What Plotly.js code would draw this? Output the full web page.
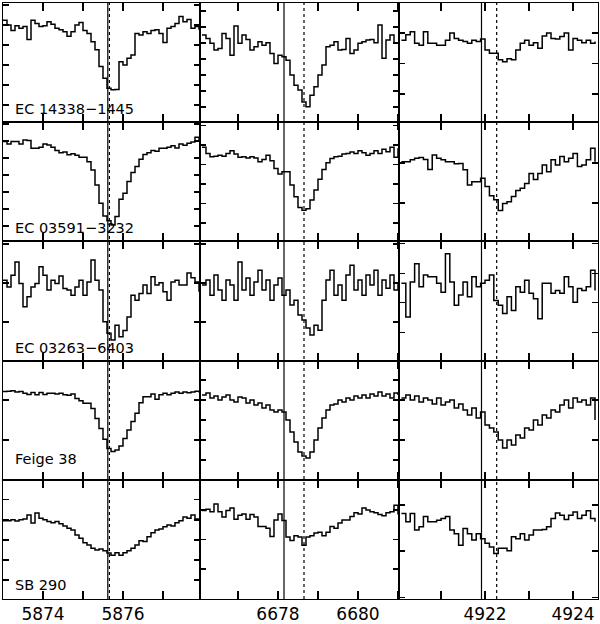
<!DOCTYPE html>
<html><head><meta charset="utf-8">
<script src="https://cdn.plot.ly/plotly-3.0.1.min.js"></script>
<style>body{margin:0;background:#fff}#plot{width:600px;height:624px}</style>
</head><body><div id="plot"></div>
<script>
const stars = ["EC 14338\u22121445", "EC 03591\u22123232", "EC 03263\u22126403", "Feige 38", "SB 290"];

const wl5876 = [5873.0,5873.1,5873.2,5873.3,5873.4,5873.5,5873.6,5873.7,5873.8,5873.9,5874.0,5874.1,5874.2,5874.3,5874.4,5874.5,5874.6,5874.7,5874.8,5874.9,5875.0,5875.1,5875.2,5875.3,5875.4,5875.5,5875.6,5875.7,5875.8,5875.9,5876.0,5876.1,5876.2,5876.3,5876.4,5876.5,5876.6,5876.7,5876.8,5876.9,5877.0,5877.1,5877.2,5877.3,5877.4,5877.5,5877.6,5877.7,5877.8,5877.9];
const wl6678 = [6676.1,6676.2,6676.3,6676.4,6676.5,6676.6,6676.7,6676.8,6676.9,6677.0,6677.1,6677.2,6677.3,6677.4,6677.5,6677.6,6677.7,6677.8,6677.9,6678.0,6678.1,6678.2,6678.3,6678.4,6678.5,6678.6,6678.7,6678.8,6678.9,6679.0,6679.1,6679.2,6679.3,6679.4,6679.5,6679.6,6679.7,6679.8,6679.9,6680.0,6680.1,6680.2,6680.3,6680.4,6680.5,6680.6,6680.7,6680.8,6680.9,6681.0];
const wl4922 = [4920.1,4920.2,4920.3,4920.4,4920.5,4920.6,4920.7,4920.8,4920.9,4921.0,4921.1,4921.2,4921.3,4921.4,4921.5,4921.6,4921.7,4921.8,4921.9,4922.0,4922.1,4922.2,4922.3,4922.4,4922.5,4922.6,4922.7,4922.8,4922.9,4923.0,4923.1,4923.2,4923.3,4923.4,4923.5,4923.6,4923.7,4923.8,4923.9,4924.0,4924.1,4924.2,4924.3,4924.4,4924.5];

// normalised flux
const ec14338_5876 = [1.012,1.000,0.986,0.998,0.992,0.996,0.964,1.012,1.004,0.996,0.998,1.008,1.002,0.992,0.988,0.983,0.972,0.983,1.000,1.006,0.986,0.979,0.958,0.938,0.896,0.867,0.842,0.838,0.839,0.908,0.900,0.917,0.925,0.979,0.975,0.983,0.979,0.986,0.988,0.979,0.956,0.992,0.996,1.004,1.021,1.008,1.014,0.992,0.996,0.988];
const ec14338_6678 = [1.025,1.014,0.999,0.978,0.983,1.030,1.014,0.962,1.053,0.999,1.025,1.011,0.978,0.988,1.004,0.993,1.001,0.967,0.936,0.962,0.957,0.946,0.900,0.868,0.853,0.816,0.801,0.837,0.863,0.900,0.931,0.988,0.993,1.004,0.978,0.980,1.014,0.967,0.978,0.999,1.004,1.009,1.011,1.001,1.056,0.952,1.009,1.025,0.999,0.999];
const ec14338_4922 = [0.988,0.997,1.002,0.983,0.980,1.002,0.983,0.983,0.980,0.980,0.988,1.000,0.991,0.988,0.986,0.983,0.988,0.986,0.990,0.972,0.967,0.967,0.956,0.953,0.958,0.956,0.972,0.983,0.988,0.980,0.984,0.975,0.995,1.000,0.991,0.990,0.994,1.000,0.972,0.991,0.988,0.984,0.988,0.983,0.986];

const ec03591_5876 = [0.996,0.982,0.996,0.996,0.982,1.006,1.002,0.957,0.957,0.963,0.982,0.976,0.963,0.943,0.931,0.935,0.918,0.924,0.916,0.904,0.904,0.878,0.829,0.741,0.633,0.559,0.531,0.506,0.555,0.657,0.692,0.761,0.814,0.849,0.892,0.920,0.931,0.943,0.939,0.957,0.957,0.963,0.971,0.959,0.982,0.975,0.986,0.994,1.022,1.002];
const ec03591_6678 = [0.988,0.957,0.940,0.943,0.948,0.943,0.957,0.971,0.954,0.937,0.940,0.933,0.940,0.933,0.914,0.926,0.948,0.919,0.880,0.851,0.863,0.863,0.795,0.735,0.680,0.666,0.673,0.718,0.769,0.824,0.875,0.909,0.931,0.940,0.943,0.954,0.957,0.964,0.957,0.971,0.960,0.948,0.957,0.971,0.957,0.978,0.966,0.988,0.937,0.984];
const ec03591_4922 = [1.003,1.003,1.008,1.012,1.014,1.009,0.984,1.020,1.012,1.008,1.003,1.003,0.998,0.999,0.983,0.945,0.953,0.953,0.962,0.941,0.918,0.908,0.881,0.899,0.903,0.916,0.931,0.937,0.949,0.974,0.959,0.974,0.995,0.978,1.008,0.995,1.016,1.003,1.012,1.024,0.991,0.995,1.008,1.037,1.003];

const ec03263_5876 = [1.007,0.990,1.020,1.054,0.999,0.939,0.965,0.990,0.999,1.042,1.020,0.982,1.007,0.999,1.018,0.986,0.982,0.969,0.990,1.007,0.969,1.003,1.059,1.007,0.982,0.901,0.871,0.854,0.892,0.862,0.878,0.913,0.969,0.956,0.973,0.995,0.973,1.016,0.995,1.001,0.978,0.956,1.003,1.007,0.995,0.995,1.026,1.014,1.003,0.978];
const ec03263_6678 = [0.995,1.008,0.969,1.021,0.982,0.956,1.008,0.995,0.956,1.054,0.982,1.013,0.969,1.003,1.033,0.982,1.008,0.956,0.995,1.013,0.969,0.982,0.944,0.956,0.918,0.905,0.885,0.867,0.892,0.879,0.956,1.008,1.033,0.969,0.995,0.956,1.021,1.046,0.982,1.008,0.969,1.021,0.995,1.033,0.969,1.008,0.987,1.021,0.982,1.003];
const ec03263_4922 = [0.983,0.926,0.985,1.016,0.977,0.997,0.994,0.994,0.983,0.968,1.033,0.985,0.946,0.963,0.985,0.960,0.994,0.977,0.983,0.988,0.997,0.954,0.946,0.932,0.960,0.937,0.977,0.968,0.988,0.966,0.957,0.923,0.983,0.983,0.966,0.971,0.966,0.994,0.977,0.951,0.974,0.971,0.977,1.005,0.971];

const feige38_5876 = [1.021,1.022,1.023,1.020,1.021,1.017,1.014,1.019,1.013,1.019,1.014,1.017,1.017,1.015,1.017,1.013,1.012,1.015,1.004,0.998,0.992,0.992,0.979,0.954,0.929,0.902,0.879,0.871,0.875,0.885,0.904,0.925,0.946,0.967,0.993,1.008,1.008,1.015,1.002,1.013,1.017,1.013,1.017,1.020,1.017,1.020,1.018,1.020,1.022,1.019];
const feige38_6678 = [1.025,1.035,1.010,1.020,1.000,1.015,1.025,1.000,0.990,1.015,1.010,0.985,1.000,0.975,0.985,0.960,0.975,0.950,0.940,0.950,0.940,0.900,0.840,0.790,0.740,0.720,0.710,0.740,0.800,0.860,0.910,0.950,0.975,0.980,1.000,0.990,1.010,1.000,1.020,1.010,1.025,1.010,1.030,1.020,1.040,1.020,1.030,1.010,1.035,1.025];
const feige38_4922 = [1.005,1.0125,1.000,1.010,0.995,1.005,1.000,0.990,1.005,0.9875,0.995,1.000,0.980,0.990,0.975,0.9625,0.980,0.955,0.970,0.9375,0.930,0.920,0.900,0.880,0.900,0.8875,0.9125,0.905,0.930,0.925,0.950,0.9375,0.9625,0.955,0.975,0.970,0.9875,1.000,0.980,1.005,0.995,1.000,0.9875,1.005,0.950];

const sb290_5876 = [0.998,0.998,1.000,0.997,1.000,1.002,1.012,0.992,1.017,1.004,1.000,0.996,0.993,0.996,0.990,0.985,0.979,0.975,0.962,0.954,0.943,0.937,0.929,0.925,0.927,0.923,0.917,0.912,0.918,0.912,0.918,0.923,0.929,0.937,0.948,0.946,0.958,0.968,0.975,0.977,0.983,0.987,0.985,0.993,0.998,1.007,1.004,1.012,1.002,1.002];
const sb290_6678 = [0.999,1.001,0.997,1.010,0.997,0.988,0.999,1.003,0.984,0.991,0.993,0.984,0.992,0.988,0.972,0.972,0.969,0.955,0.983,0.993,0.982,0.954,0.948,0.956,0.954,0.940,0.954,0.956,0.961,0.962,0.956,0.962,0.972,0.969,0.978,0.983,0.983,0.989,0.995,0.993,1.003,1.000,0.997,0.995,0.992,0.990,0.995,0.997,1.008,0.992];
const sb290_4922 = [0.982,0.964,0.982,0.946,0.953,0.975,0.964,0.964,0.967,0.971,0.975,0.946,0.938,0.913,0.949,0.938,0.924,0.938,0.927,0.917,0.909,0.895,0.906,0.906,0.901,0.931,0.927,0.938,0.924,0.935,0.946,0.946,0.947,0.953,0.971,0.983,0.978,0.969,0.978,0.985,0.971,0.978,0.988,0.971,0.964];

const tickVals = [[5873,5874,5875,5876,5877],[6677,6678,6679,6680,6681],[4921,4922,4923,4924]];
const tickText = [["","5874","","5876",""],["","6678","","6680",""],["","4922","","4924"]];
const restLines = [5875.62, 6678.15, 4921.92];
const shiftLines = [5875.66, 6678.65, 4922.265];

const waves = [wl5876, wl6678, wl4922];
const fluxes = [
  [ec14338_5876, ec14338_6678, ec14338_4922],
  [ec03591_5876, ec03591_6678, ec03591_4922],
  [ec03263_5876, ec03263_6678, ec03263_4922],
  [feige38_5876, feige38_6678, feige38_4922],
  [sb290_5876, sb290_6678, sb290_4922]
];

// layout settings (not data)
const xRanges = [[5873.0, 5877.925],[6676.05, 6681.025],[4920.045, 4924.568]];
const colDom = [[0, 0.33109],[0.33109, 0.66555],[0.66555, 1]];
const yRanges = [
  [[0.757,1.055],[0.7525,1.125],[0.854,1.049]],
  [[0.409,1.11],[0.506,1.117],[0.804,1.102]],
  [[0.801,1.107],[0.801,1.107],[0.852,1.054]],
  [[0.8005,1.0985],[0.601,1.197],[0.8005,1.0985]],
  [[0.8025,1.1],[0.849,1.051],[0.796,1.055]]
];
const yDt = [[0.05,0.05,0.05],[0.1,0.1,0.1],[0.1,0.1,0.05],[0.1,0.1,0.1],[0.05,0.05,0.1]];

const traces = [];
const layout = {
  width: 600, height: 624,
  margin: {l: 3, r: 2, t: 3, b: 25},
  paper_bgcolor: '#fff', plot_bgcolor: '#fff',
  showlegend: false,
  font: {family: 'DejaVu Sans', color: '#000'},
  shapes: [], annotations: []
};

for (let r = 0; r < 5; r++) {
  for (let c = 0; c < 3; c++) {
    const n = r * 3 + c + 1;
    const sfx = n === 1 ? '' : String(n);
    traces.push({
      x: waves[c], y: fluxes[r][c], type: 'scatter', mode: 'lines',
      line: {shape: 'hv', color: '#000', width: 1.5},
      xaxis: 'x' + sfx, yaxis: 'y' + sfx, hoverinfo: 'skip'
    });
    layout['xaxis' + sfx] = {
      domain: colDom[c], anchor: 'y' + sfx, range: xRanges[c],
      showline: true, mirror: 'ticks', linecolor: '#000', linewidth: 1,
      ticks: 'inside', ticklen: 8, tickwidth: 1.3, tickcolor: '#000',
      tickvals: tickVals[c], ticktext: tickText[c],
      showticklabels: r === 4, tickfont: {family: 'DejaVu Sans', size: 17, color: '#000'},
      showgrid: false, zeroline: false, fixedrange: true
    };
    const top = 1 - r * 0.2, bot = 1 - (r + 1) * 0.2;
    layout['yaxis' + sfx] = {
      domain: [bot, top], anchor: 'x' + sfx, range: yRanges[r][c],
      showline: true, mirror: 'ticks', linecolor: '#000', linewidth: 1,
      ticks: 'inside', ticklen: 6, tickwidth: 1.3, tickcolor: '#000',
      dtick: yDt[r][c], tick0: 0,
      showticklabels: false, showgrid: false, zeroline: false, fixedrange: true
    };
  }
}

for (let c = 0; c < 3; c++) {
  const xr = 'x' + (13 + c);
  layout.shapes.push({type: 'line', xref: xr, yref: 'paper', x0: restLines[c], x1: restLines[c], y0: 0, y1: 1,
    line: {color: '#000', width: 1.2}});
  layout.shapes.push({type: 'line', xref: xr, yref: 'paper', x0: shiftLines[c], x1: shiftLines[c], y0: 0, y1: 1,
    line: {color: '#000', width: 1.2, dash: 'dot'}});
}

const labelY = [0.822, 0.6225, 0.421, 0.235, 0.0235];
for (let r = 0; r < 5; r++) {
  layout.annotations.push({
    text: stars[r], xref: 'paper', yref: 'paper', x: 0.017, y: labelY[r],
    xanchor: 'left', yanchor: 'middle', showarrow: false,
    font: {family: 'DejaVu Sans', size: 14.5, color: '#000'}
  });
}

Plotly.newPlot('plot', traces, layout, {displayModeBar: false, staticPlot: true});
</script>
</body></html>
